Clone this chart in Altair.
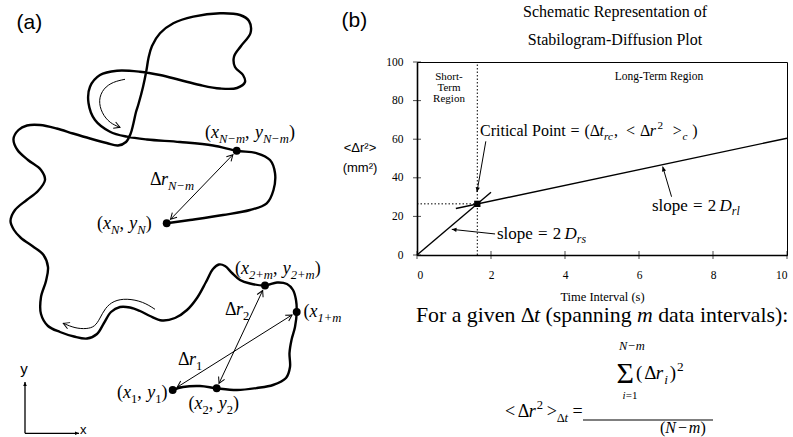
import math
import altair as alt
import pandas as pd

# ------------------------------------------------------------------ layout
CANVAS_W, CANVAS_H = 793, 437
PLOT_L, PLOT_R, PLOT_T, PLOT_B = 417, 787, 62, 255
PLOT_W, PLOT_H = PLOT_R - PLOT_L, PLOT_B - PLOT_T
T_MAX, MSD_MAX = 10, 100
SERIF, SANS = "Liberation Serif", "Liberation Sans"
INK = "black"

# ------------------------------------------- panel (a): sway trajectory
# sheet units, y measured downward; first sample is (x1, y1), last is (xN, yN)
path_x = [172.7, 183, 200, 216.7, 237, 257, 273, 286, 290, 289.5,
          291.5, 295, 296.7, 296, 293, 287, 277, 265, 250, 240,
          232, 225, 219, 213, 206, 197, 187, 175, 162, 150,
          140, 130, 120, 111, 104, 97, 87, 74, 60, 48,
          41, 41, 46, 48, 43.5, 33, 21, 14, 10.5, 15,
          26.7, 38, 45, 41, 28, 17.5, 13.5, 18.5, 27, 40,
          56.7, 73, 90, 106.7, 118, 126, 130.5, 133.3, 136, 138.5,
          143, 146.5, 148.5, 152, 160, 173.3, 193.3, 220, 240, 249,
          250.5, 241, 234, 235, 243, 245, 237, 220, 200, 180,
          160, 140, 117, 100, 90, 88.5, 95, 110, 127, 147,
          180, 213, 236.7, 257, 270, 275, 273.5, 266.7, 250, 223,
          190, 166.7]
path_y = [390, 387, 386, 388.3, 390, 388, 385, 378, 367, 353,
          340, 327, 312, 300, 290, 284, 282.5, 285.5, 283.5, 280,
          273, 266, 264.5, 269, 282, 298, 310, 318, 320.5, 316,
          311, 307.5, 307, 312, 323, 334, 338.5, 336.5, 332, 326,
          314, 297, 281, 267, 255, 246.5, 238, 230, 221, 210,
          200, 191, 180, 170, 160, 150, 139, 130, 125.5, 125,
          128.5, 133.5, 138.5, 143, 145.5, 142, 134, 124, 112, 104,
          87, 70, 58, 46, 33.3, 23.3, 16.7, 13.3, 15, 21,
          33, 46, 56.7, 67, 75, 82, 88, 88.5, 85, 80,
          75, 71.7, 70.7, 75, 86.7, 103, 120, 131.7, 136.7, 139.5,
          142, 145.5, 150.7, 153.3, 160, 173, 190, 203.3, 210, 215,
          220, 223.3]
# labelled samples: 1, 2, 1+m, 2+m, N-m, N
sample_idx = [0, 3, 12, 17, 102, 111]
# displacement vectors drawn as double arrows: Δr1, Δr2, Δr(N-m)
disp_pairs = [(0, 12), (3, 17), (111, 102)]

# direction-of-travel cues
loop_x = [125, 113.3, 103.3, 98.3, 101.7, 110, 120]
loop_y = [79.3, 81.7, 88.3, 100, 113.3, 123.3, 127.3]
drift_x = [155, 143.3, 126.7, 113.3, 105, 100, 95, 86.7, 75, 63.3]
drift_y = [309.3, 301.7, 298.3, 300.7, 308.3, 318.3, 326.7, 329, 328.3, 323.3]

# x / y reference frame glyph: origin, tip of y arrow, tip of x arrow
frame_x = [25, 25, 79]
frame_y = [433.3, 382, 433.3]

# ------------------------------------------- panel (b): diffusion plot
X_TICKS = [0, 2, 4, 6, 8, 10]
Y_TICKS = [0, 20, 40, 60, 80, 100]
crit_t, crit_msd = 1.63, 26.5
fit_name = ["short", "short", "long", "long"]
fit_t = [0, 2.0, 1.05, 10]
fit_msd = [0, 32.5, 24.1, 60.5]
# annotation pointers, tail -> head
ptr_t = [1.86, 2.11, 6.88]
ptr_msd = [58.9, 10.9, 30.2]
ptr_t2 = [1.62, 0.94, 6.64]
ptr_msd2 = [32.6, 13.3, 45.8]

# ------------------------------------------------------------------ helpers
OPEN_HEAD = "M -1 -0.55 L 0 0 L -1 0.55"
SOLID_HEAD = "M -1 -0.45 L 0 0 L -1 0.45 Z"


def head_angle(dx, dy):
    return math.degrees(math.atan2(dy, dx)) % 360


def sx(field):
    return alt.X(f"{field}:Q", axis=None,
                 scale=alt.Scale(domain=[PLOT_L, PLOT_R], nice=False, zero=False))


def sy(field):
    return alt.Y(f"{field}:Q", axis=None,
                 scale=alt.Scale(domain=[PLOT_T, PLOT_B], nice=False, zero=False, reverse=True))


X_AXIS = alt.Axis(values=X_TICKS, format="d", ticks=False, grid=False,
                  domainColor=INK, domainWidth=1.6,
                  labelFont=SERIF, labelFontSize=11.5, labelColor=INK, labelPadding=14,
                  titleFont=SERIF, titleFontSize=12.5, titleFontWeight="normal",
                  titleColor=INK, titlePadding=10)
Y_AXIS = alt.Axis(values=Y_TICKS, format="d", ticks=False, grid=False,
                  domainColor=INK, domainWidth=1.6,
                  labelFont=SERIF, labelFontSize=11.5, labelColor=INK, labelPadding=14)


def px():
    return alt.X("t:Q", scale=alt.Scale(domain=[0, T_MAX], nice=False),
                 axis=X_AXIS, title="Time Interval (s)")


def py():
    return alt.Y("msd:Q", scale=alt.Scale(domain=[0, MSD_MAX], nice=False),
                 axis=Y_AXIS, title=None)


# approximate advance widths (per 1000 em) for the serif face
REG_W = dict(zip("abcdefghijklmnopqrstuvwxyz",
                 [444, 500, 444, 500, 444, 333, 500, 500, 278, 278, 500, 278, 778,
                  500, 500, 500, 500, 333, 389, 278, 500, 500, 722, 500, 500, 444]))
REG_W.update(dict(zip("ABCDEFGHIJKLMNOPQRSTUVWXYZ",
                      [722, 667, 667, 722, 611, 556, 722, 722, 333, 389, 722, 611, 889,
                       722, 722, 556, 722, 667, 556, 611, 722, 722, 944, 722, 722, 611])))
REG_W.update({" ": 250, "(": 333, ")": 333, ",": 250, ".": 250, ":": 278, "-": 333,
              "<": 564, ">": 564, "=": 564, "+": 564, "−": 564, "Δ": 612, "Σ": 592})
ITA_W = dict(zip("abcdefghijklmnopqrstuvwxyz",
                 [500, 500, 444, 500, 444, 278, 500, 500, 278, 278, 444, 278, 722,
                  500, 500, 500, 500, 389, 389, 278, 500, 444, 667, 444, 444, 389]))
ITA_W.update({"N": 667, "D": 722, " ": 250, "+": 675, "−": 675, "=": 675})
SCRIPT = 0.7

texts = []


def put(text, x, y, size, font=SERIF, style="normal", align="left"):
    texts.append(dict(x=x, y=y, text=text, size=size, font=font, style=style, align=align))


def run_width(s, italic, size):
    table = ITA_W if italic else REG_W
    return sum(table.get(c, 500) for c in s) * size / 1000


def typeset(parts, x, y, size, align="left"):
    """Lay out runs of roman / italic / sub- and superscript text left to right."""
    pieces, cursor = [], 0.0
    for part in parts:
        txt, kind = part[0], part[1]
        cursor += (part[2] if len(part) > 2 else 0) * size
        small = kind in ("sub", "subr", "sup")
        fs = size * SCRIPT if small else size
        italic = kind in ("i", "sub")
        shift = 0.25 * size if kind in ("sub", "subr") else (-0.42 * size if kind == "sup" else 0)
        pieces.append((cursor, y + shift, txt, fs, "italic" if italic else "normal"))
        cursor += run_width(txt, italic, fs)
    x0 = x - cursor / 2 if align == "center" else x
    for cx, cy, txt, fs, st in pieces:
        put(txt, x0 + cx, cy, fs, SERIF, st)


# ------------------------------------------------------------ text content
put("(a)", 16.5, 29, 21, SANS)
put("(b)", 341.5, 27, 21, SANS)
put("y", 24, 374, 15, SANS, align="center")
put("x", 80, 434, 13, SANS)


def point_label(sub, x, y, kind="sub"):
    typeset([("(", "r"), ("x", "i"), (sub, kind), (",", "r"),
             ("y", "i", 0.3), (sub, kind), (")", "r")], x, y, 18)


point_label("N−m", 205, 138)
point_label("N", 97, 229)
point_label("2+m", 235, 274)
point_label("1", 117, 398, "subr")
point_label("2", 188.5, 409, "subr")
typeset([("(", "r"), ("x", "i"), ("1+m", "sub")], 303.5, 317, 18)
typeset([("Δ", "r"), ("r", "i"), ("N−m", "sub")], 150, 185, 18)
typeset([("Δ", "r"), ("r", "i"), ("2", "subr")], 225, 315, 18)
typeset([("Δ", "r"), ("r", "i"), ("1", "subr")], 178, 365, 18)

put("Schematic Representation of", 615, 17, 16, align="center")
put("Stabilogram-Diffusion Plot", 615, 45, 16, align="center")
put("Short-", 449, 79.5, 11, align="center")
put("Term", 449, 90.5, 11, align="center")
put("Region", 449, 101.5, 11, align="center")
put("Long-Term Region", 659, 80, 11.5, align="center")
put("<Δr²>", 360, 152, 13, SANS, align="center")
put("(mm²)", 360, 172, 13, SANS, align="center")

typeset([("Critical Point", "r"), ("=", "r", 0.3), ("(", "r", 0.3), ("Δ", "r"), ("t", "i"),
         ("rc", "sub"), (",", "r", 0.05), ("<", "r", 0.5), ("Δ", "r", 0.3), ("r", "i"),
         ("2", "sup", 0.1), (">", "r", 0.6), ("c", "sub", 0.05), (")", "r", 0.3)], 480, 136, 16)
typeset([("slope", "r"), ("=", "r", 0.3), ("2", "r", 0.3), ("D", "i", 0.2), ("rs", "sub")], 497, 239, 17)
typeset([("slope", "r"), ("=", "r", 0.3), ("2", "r", 0.3), ("D", "i", 0.2), ("rl", "sub")], 652, 211, 17)

typeset([("For a given Δ", "r"), ("t", "i"), ("(spanning", "r", 0.25), ("m", "i", 0.25),
         ("data intervals):", "r", 0.25)], 416, 322, 21.8)
typeset([("<", "r"), ("Δ", "r", 0.15), ("r", "i"), ("2", "sup", 0.05), (">", "r", 0.2),
         ("Δ", "subr"), ("t", "sub"), ("=", "r", 0.25)], 505, 417, 18)
put("Σ", 616.5, 383, 30)
typeset([("N−m", "i")], 632, 350, 12.5, align="center")
typeset([("i", "i"), ("=1", "r")], 630, 399, 11, align="center")
typeset([("(", "r"), ("Δ", "r", 0.1), ("r", "i"), ("i", "sub", 0.05), (")", "r", 0.1),
         ("2", "sup", 0.05)], 636, 379, 19)
typeset([("(", "r"), ("N", "i"), ("−", "r", 0.12), ("m", "i", 0.12), (")", "r")], 660, 433, 16)
fraction_x, fraction_x2, fraction_y = 583, 713, 420

# ------------------------------------------------------------ sheet layers
path_df = pd.DataFrame({"x": path_x, "y": path_y, "i": range(len(path_x))})
trajectory = alt.Chart(path_df).mark_line(
    interpolate="catmull-rom", color=INK, strokeWidth=2.4, strokeCap="round", strokeJoin="round"
).encode(x=sx("x"), y=sy("y"), order=alt.Order("i:Q"))

samples = alt.Chart(pd.DataFrame({"x": [path_x[k] for k in sample_idx],
                                  "y": [path_y[k] for k in sample_idx]})).mark_circle(
    size=62, color=INK, opacity=1).encode(x=sx("x"), y=sy("y"))

GAP = 5.5
seg_rows, open_heads = [], []
for a, b in disp_pairs:
    x0, y0, x1, y1 = path_x[a], path_y[a], path_x[b], path_y[b]
    length = math.hypot(x1 - x0, y1 - y0)
    ux, uy = (x1 - x0) / length, (y1 - y0) / length
    ax_, ay_ = x0 + ux * GAP, y0 + uy * GAP
    bx_, by_ = x1 - ux * GAP, y1 - uy * GAP
    seg_rows.append(dict(x=ax_, y=ay_, x2=bx_, y2=by_))
    open_heads.append(dict(x=bx_, y=by_, ang=head_angle(ux, uy)))
    open_heads.append(dict(x=ax_, y=ay_, ang=head_angle(-ux, -uy)))

cue_rows = []
for name, xs, ys in (("loop", loop_x, loop_y), ("drift", drift_x, drift_y)):
    for k, (cx, cy) in enumerate(zip(xs, ys)):
        cue_rows.append(dict(cue=name, x=cx, y=cy, i=k))
    open_heads.append(dict(x=xs[-1], y=ys[-1], ang=head_angle(xs[-1] - xs[-2], ys[-1] - ys[-2])))

disp_lines = alt.Chart(pd.DataFrame(seg_rows)).mark_rule(color=INK, strokeWidth=1).encode(
    x=sx("x"), y=sy("y"), x2=alt.X2("x2:Q"), y2=alt.Y2("y2:Q"))
cues = alt.Chart(pd.DataFrame(cue_rows)).mark_line(
    interpolate="basis", color=INK, strokeWidth=1).encode(
    x=sx("x"), y=sy("y"), detail="cue:N", order=alt.Order("i:Q"))
heads_a = alt.Chart(pd.DataFrame(open_heads)).mark_point(
    shape=OPEN_HEAD, filled=False, color=INK, strokeWidth=1, size=144, opacity=1).encode(
    x=sx("x"), y=sy("y"), angle=alt.Angle("ang:Q", scale=None))

frame_rows = [dict(x=frame_x[0], y=frame_y[0], x2=frame_x[k], y2=frame_y[k]) for k in (1, 2)]
frame_heads = [dict(x=frame_x[k], y=frame_y[k],
                    ang=head_angle(frame_x[k] - frame_x[0], frame_y[k] - frame_y[0])) for k in (1, 2)]
frame_lines = alt.Chart(pd.DataFrame(frame_rows)).mark_rule(color=INK, strokeWidth=1.3).encode(
    x=sx("x"), y=sy("y"), x2=alt.X2("x2:Q"), y2=alt.Y2("y2:Q"))
frame_tips = alt.Chart(pd.DataFrame(frame_heads)).mark_point(
    shape=SOLID_HEAD, filled=True, color=INK, size=64, opacity=1).encode(
    x=sx("x"), y=sy("y"), angle=alt.Angle("ang:Q", scale=None))

fraction = alt.Chart(pd.DataFrame({"x": [fraction_x], "x2": [fraction_x2], "y": [fraction_y]})).mark_rule(
    color=INK, strokeWidth=1.1).encode(x=sx("x"), x2=alt.X2("x2:Q"), y=sy("y"))

text_df = pd.DataFrame(texts)
text_layers = []
for (font, style, align), grp in text_df.groupby(["font", "style", "align"]):
    text_layers.append(
        alt.Chart(grp).mark_text(font=font, fontStyle=style, align=align,
                                 baseline="alphabetic", color=INK).encode(
            x=sx("x"), y=sy("y"), text="text:N", size=alt.Size("size:Q", scale=None)))

sheet = alt.layer(trajectory, disp_lines, cues, heads_a, samples, frame_lines, frame_tips,
                  fraction, *text_layers)

# ------------------------------------------------------------ plot layers
ticks_y = alt.Chart(pd.DataFrame({"t": [0] * len(Y_TICKS), "msd": Y_TICKS})).mark_tick(
    orient="horizontal", size=8, thickness=1, color=INK).encode(x=px(), y=py())
ticks_x = alt.Chart(pd.DataFrame({"t": X_TICKS, "msd": [0] * len(X_TICKS)})).mark_tick(
    orient="vertical", size=8, thickness=1, color=INK).encode(x=px(), y=py())

fits = alt.Chart(pd.DataFrame({"fit": fit_name, "t": fit_t, "msd": fit_msd})).mark_line(
    color=INK, strokeWidth=1.4).encode(x=px(), y=py(), detail="fit:N")

guide_v = alt.Chart(pd.DataFrame({"t": [crit_t], "msd": [0], "msd2": [MSD_MAX]})).mark_rule(
    color=INK, strokeWidth=1, strokeDash=[1.5, 2]).encode(x=px(), y=py(), y2=alt.Y2("msd2:Q"))
guide_h = alt.Chart(pd.DataFrame({"t": [0], "t2": [crit_t], "msd": [crit_msd]})).mark_rule(
    color=INK, strokeWidth=1, strokeDash=[1.5, 2]).encode(x=px(), x2=alt.X2("t2:Q"), y=py())
crit = alt.Chart(pd.DataFrame({"t": [crit_t], "msd": [crit_msd]})).mark_square(
    size=40, color=INK, opacity=1).encode(x=px(), y=py())

ptr_df = pd.DataFrame({"t": ptr_t, "msd": ptr_msd, "t2": ptr_t2, "msd2": ptr_msd2})
ptr_lines = alt.Chart(ptr_df).mark_rule(color=INK, strokeWidth=1).encode(
    x=px(), y=py(), x2=alt.X2("t2:Q"), y2=alt.Y2("msd2:Q"))
ptr_head_df = pd.DataFrame({
    "t": ptr_t2, "msd": ptr_msd2,
    "ang": [head_angle((b - a) * PLOT_W / T_MAX, -(d - c) * PLOT_H / MSD_MAX)
            for a, b, c, d in zip(ptr_t, ptr_t2, ptr_msd, ptr_msd2)]})
ptr_heads = alt.Chart(ptr_head_df).mark_point(
    shape=SOLID_HEAD, filled=True, color=INK, size=90, opacity=1).encode(
    x=px(), y=py(), angle=alt.Angle("ang:Q", scale=None))

plot = alt.layer(ticks_y, ticks_x, guide_v, guide_h, fits, crit, ptr_lines, ptr_heads)

chart = (
    alt.layer(plot, sheet)
    .resolve_scale(x="independent", y="independent")
    .properties(
        width=PLOT_W, height=PLOT_H, background="white",
        autosize=alt.AutoSizeParams(type="none"),
        padding={"left": PLOT_L, "top": PLOT_T,
                 "right": CANVAS_W - PLOT_R, "bottom": CANVAS_H - PLOT_B},
    )
    .configure_view(stroke=INK, strokeWidth=1)
)

chart.save("out.html", embed_options={"renderer": "svg", "actions": False})
